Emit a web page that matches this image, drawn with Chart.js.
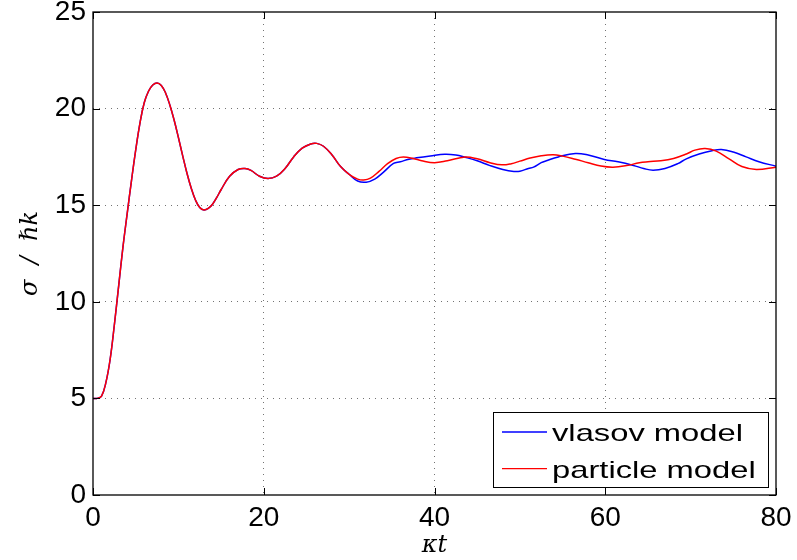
<!DOCTYPE html>
<html>
<head>
<meta charset="utf-8">
<script src="https://cdn.jsdelivr.net/npm/chart.js@4.4.1/dist/chart.umd.min.js"></script>
<style>
  html, body { margin: 0; padding: 0; background: #fff; }
  #wrap { width: 797px; height: 560px; position: relative; }
</style>
</head>
<body>
<div id="wrap"><canvas id="sigmaChart"></canvas></div>
<script>
// both models coincide up to kt ~ 30
const tShared = [0, 0.5, 1, 1.5, 2, 2.5, 3, 3.5, 4, 4.5, 5, 5.5, 6, 6.5, 7, 7.5, 8, 8.5, 9, 9.5,
  10, 10.5, 11, 11.5, 12, 12.5, 13, 13.5, 14, 14.5, 15, 16, 17, 17.8, 18.5, 19.5, 20.5, 21.5,
  22.5, 23.5, 24.5, 25.5, 26.2, 27, 28, 29, 30];
const sigmaShared = [5.0, 5.0, 5.12, 5.8, 7.0, 8.8, 10.8, 12.8, 14.55, 16.25, 17.85, 19.25, 20.3, 20.9, 21.22, 21.33, 21.2, 20.81, 20.19, 19.41,
  18.51, 17.57, 16.67, 15.89, 15.27, 14.88, 14.75, 14.83, 15.05, 15.4, 15.8, 16.5, 16.85, 16.9, 16.8, 16.5, 16.38, 16.5,
  16.9, 17.5, 17.95, 18.17, 18.2, 18.05, 17.6, 17.0, 16.6];

const tVlasov = [31, 32, 33, 34, 35.2, 36, 37, 37.9, 39.5, 41.2, 42.5, 43.6, 45, 46.5, 48, 49.3, 50, 51,
  51.6, 52.5, 53.1, 54.5, 56.5, 58, 59.9, 61.5, 63.3, 64.5, 65.6, 67, 68.5, 69.5, 71, 72.5, 73.6, 75,
  76.5, 78, 80];
const sigmaVlasov = [16.25, 16.19, 16.35, 16.7, 17.16, 17.25, 17.38, 17.45, 17.55, 17.64, 17.6, 17.48, 17.3, 17.05, 16.85, 16.75, 16.76, 16.9,
  16.97, 17.2, 17.3, 17.5, 17.68, 17.6, 17.37, 17.25, 17.06, 16.9, 16.81, 16.9, 17.15, 17.4, 17.65, 17.82, 17.88, 17.75,
  17.5, 17.25, 17.02];

const tParticle = [31, 31.7, 32.5, 33.5, 34.5, 35.5, 36.35, 37.5, 38.5, 40, 41.5, 43.6, 45, 46.5, 47.9, 49, 50, 51.2,
  52.5, 53.9, 55, 56.5, 58, 59.5, 60.9, 62.5, 64, 65, 66.5, 68, 69.5, 70.5, 71.7, 73, 74.5, 76, 77.7, 80];
const sigmaParticle = [16.35, 16.3, 16.4, 16.75, 17.15, 17.42, 17.5, 17.42, 17.3, 17.2, 17.3, 17.49, 17.4, 17.2, 17.09, 17.15, 17.28, 17.44,
  17.56, 17.61, 17.54, 17.38, 17.2, 17.03, 16.97, 17.05, 17.2, 17.25, 17.3, 17.42, 17.65, 17.85, 17.93, 17.8, 17.4, 17.0, 16.85, 16.97];

const xTicks = [0, 20, 40, 60, 80];
const yTicks = [0, 5, 10, 15, 20, 25];
const seriesNames = ['vlasov model', 'particle model'];

function toPoints(ts, vs) {
  return ts.map((t, i) => ({ x: t, y: vs[i] }));
}

const vlasovData = toPoints(tShared, sigmaShared).concat(toPoints(tVlasov, sigmaVlasov));
const particleData = toPoints(tShared, sigmaShared).concat(toPoints(tParticle, sigmaParticle));

// frame, inward ticks and the boxed legend (matlab style)
const framePlugin = {
  id: 'frame',
  afterDraw(chart) {
    const { ctx, chartArea: a, scales } = chart;
    ctx.save();
    ctx.strokeStyle = '#000';
    ctx.lineWidth = 1.3;
    ctx.strokeRect(a.left, a.top, a.right - a.left, a.bottom - a.top);

    ctx.lineWidth = 1;
    ctx.beginPath();
    xTicks.forEach(v => {
      const px = Math.round(scales.x.getPixelForValue(v)) + 0.5;
      ctx.moveTo(px, a.bottom); ctx.lineTo(px, a.bottom - 7);
      ctx.moveTo(px, a.top); ctx.lineTo(px, a.top + 7);
    });
    yTicks.forEach(v => {
      const py = Math.round(scales.y.getPixelForValue(v)) + 0.5;
      ctx.moveTo(a.left, py); ctx.lineTo(a.left + 7, py);
      ctx.moveTo(a.right, py); ctx.lineTo(a.right - 7, py);
    });
    ctx.stroke();

    // legend box
    const boxW = 275, boxH = 75;
    const bx = a.right - 8 - boxW;
    const by = a.bottom - 8 - boxH;
    ctx.fillStyle = '#fff';
    ctx.fillRect(bx, by, boxW, boxH);
    ctx.strokeStyle = '#000';
    ctx.lineWidth = 1;
    ctx.strokeRect(bx + 0.5, by + 0.5, boxW, boxH);

    ctx.font = '24px "Liberation Sans", Arial, sans-serif';
    ctx.textBaseline = 'alphabetic';
    ctx.textAlign = 'left';
    const sx = 191 / ctx.measureText(seriesNames[0]).width;
    chart.data.datasets.forEach((ds, i) => {
      const ly = by + 20 + i * 36.6;
      ctx.strokeStyle = ds.borderColor;
      ctx.lineWidth = 1.3;
      ctx.beginPath();
      ctx.moveTo(bx + 9, ly);
      ctx.lineTo(bx + 54, ly);
      ctx.stroke();
      ctx.save();
      ctx.translate(bx + 59, ly + 9);
      ctx.scale(sx, 1);
      ctx.fillStyle = '#000';
      ctx.fillText(ds.label, 0, 0);
      ctx.restore();
    });
    ctx.restore();
  }
};

const gridColor = (ctx) => {
  const v = ctx.tick ? ctx.tick.value : null;
  const s = ctx.scale;
  if (v === s.min || v === s.max) return 'rgba(0,0,0,0)';
  return 'rgba(0,0,0,0.55)';
};

new Chart(document.getElementById('sigmaChart'), {
  type: 'line',
  data: {
    datasets: [
      {
        label: seriesNames[0],
        data: vlasovData,
        borderColor: '#0000ff',
        borderWidth: 1.5,
        pointRadius: 0,
        tension: 0.4,
        order: 1
      },
      {
        label: seriesNames[1],
        data: particleData,
        borderColor: '#ff0000',
        borderWidth: 1.5,
        pointRadius: 0,
        tension: 0.4,
        order: 0
      }
    ]
  },
  options: {
    responsive: true,
    maintainAspectRatio: false,
    animation: false,
    layout: { padding: { top: 12, right: 21, left: 0, bottom: 0 } },
    plugins: {
      legend: { display: false },
      tooltip: { enabled: false }
    },
    scales: {
      x: {
        type: 'linear',
        min: 0,
        max: 80,
        afterBuildTicks: (scale) => { scale.ticks = xTicks.map(v => ({ value: v })); },
        afterFit: (scale) => {
          scale.height = 65;
          scale.paddingLeft = 0;
          scale.paddingRight = 0;
        },
        ticks: {
          color: '#000',
          padding: 6,
          maxRotation: 0,
          font: { family: '"Liberation Sans", Arial, sans-serif', size: 28 }
        },
        grid: { color: gridColor, drawTicks: false, lineWidth: 1 },
        border: { display: false, dash: [1, 5] },
        title: {
          display: true,
          text: 'κt',
          color: '#000',
          padding: { top: 0, bottom: 0 },
          font: { family: '"DejaVu Serif", "Liberation Serif", serif', size: 24, style: 'italic' }
        }
      },
      y: {
        min: 0,
        max: 25,
        afterBuildTicks: (scale) => { scale.ticks = yTicks.map(v => ({ value: v })); },
        afterFit: (scale) => {
          scale.width = 93;
          scale.paddingTop = 0;
          scale.paddingBottom = 0;
        },
        ticks: {
          color: '#000',
          padding: 7,
          font: { family: '"Liberation Sans", Arial, sans-serif', size: 28 }
        },
        grid: { color: gridColor, drawTicks: false, lineWidth: 1 },
        border: { display: false, dash: [1, 5] },
        title: {
          display: true,
          text: 'σ  /  ℏk',
          color: '#000',
          padding: { top: 16, bottom: 0 },
          font: { family: '"DejaVu Serif", "Liberation Serif", serif', size: 24, style: 'italic' }
        }
      }
    }
  },
  plugins: [framePlugin]
});
</script>
</body>
</html>
